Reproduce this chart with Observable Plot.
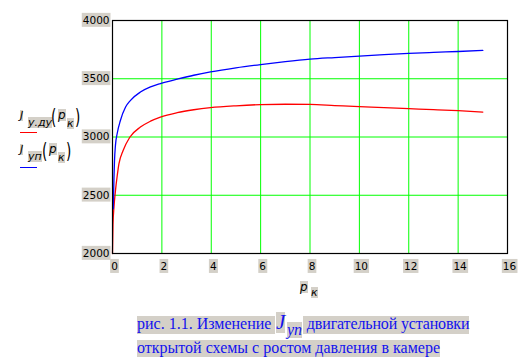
<!DOCTYPE html>
<html>
<head>
<meta charset="utf-8">
<script src="https://cdn.jsdelivr.net/npm/d3@7"></script>
<script src="https://cdn.jsdelivr.net/npm/@observablehq/plot@0.6"></script>
<style>
  html, body { margin: 0; padding: 0; background: #fff; }
  #wrap { position: relative; width: 526px; height: 358px; overflow: hidden; background: #fff; }
  .a { position: absolute; white-space: pre; line-height: 1; }
  .g { background: #d4d0c8; }
  .leg { font-family: "DejaVu Sans", sans-serif; color: #000; }
  .par { transform: scaleX(0.62); transform-origin: 0 0; }
  .cap { font-family: "Liberation Serif", serif; font-size: 16px; color: #1212ee; }
</style>
</head>
<body>
<div id="wrap"></div>
<script>
// Data
const xTicks = [0, 2, 4, 6, 8, 10, 12, 14, 16];
const yTicks = [2000, 2500, 3000, 3500, 4000];
const gridXTicks = [2, 4, 6, 8, 10, 12, 14];
const gridYTicks = [2500, 3000, 3500];

// J_уп(p_к) — blue
const pkUp = [0.03, 0.06, 0.08, 0.12, 0.19, 0.32, 0.53, 0.73, 1.13, 1.54, 1.94, 2.62, 3.29, 3.97, 5, 6, 7, 8, 9, 10, 11, 12, 13, 14, 15];
const jUp  = [2384, 2650, 2790, 2930, 3030, 3142, 3257, 3315, 3386, 3430, 3459, 3496, 3530, 3559, 3594, 3622, 3647, 3668, 3682, 3695, 3707, 3717, 3726, 3734, 3743];

// J_у.ду(p_к) — red
const pkDu = [0, 0.02, 0.06, 0.12, 0.19, 0.26, 0.43, 0.7, 1.13, 1.54, 1.94, 2.62, 3.29, 3.97, 5, 6, 7, 8, 9, 10, 11, 12, 13, 14, 15];
const jDu  = [2000, 2250, 2400, 2540, 2665, 2769, 2884, 2998, 3085, 3136, 3171, 3209, 3234, 3252, 3268, 3278, 3281, 3280, 3270, 3260, 3252, 3243, 3235, 3226, 3214];

const upData = pkUp.map((x, i) => ({x, y: jUp[i]}));
const duData = pkDu.map((x, i) => ({x, y: jDu[i]}));

const chart = Plot.plot({
  width: 526,
  height: 300,
  marginLeft: 112,
  marginRight: 19,
  marginTop: 20,
  marginBottom: 47,
  style: { fontFamily: "DejaVu Sans, sans-serif", fontSize: "10.5px", background: "#fff", color: "#000" },
  x: { domain: [0, 16], ticks: xTicks, tickSize: 0, tickPadding: 9, label: null, tickFormat: d => String(d) },
  y: { domain: [2000, 4000], ticks: yTicks, tickSize: 0, tickPadding: 3, label: null, tickFormat: d => String(d) },
  marks: [
    Plot.gridX(gridXTicks, { stroke: "#00ff00", strokeOpacity: 1, strokeWidth: 1 }),
    Plot.gridY(gridYTicks, { stroke: "#00ff00", strokeOpacity: 1, strokeWidth: 1 }),
    Plot.line(duData, { x: "x", y: "y", stroke: "#ff0000", strokeWidth: 1.3, curve: "monotone-x" }),
    Plot.line(upData, { x: "x", y: "y", stroke: "#0000ff", strokeWidth: 1.3, curve: "monotone-x" }),
    Plot.frame({ stroke: "#000", strokeWidth: 1.2 })
  ]
});

const wrap = document.getElementById("wrap");
wrap.appendChild(chart);

// gray highlight behind tick labels (Mathcad style)
const svg = d3.select(chart.tagName.toLowerCase() === "svg" ? chart : chart.querySelector("svg"));
svg.selectAll('g[aria-label="x-axis tick label"] text').attr("dx", 2);
svg.selectAll('g[aria-label="x-axis tick label"] text, g[aria-label="y-axis tick label"] text').each(function() {
  const b = this.getBBox();
  const tr = this.getAttribute("transform");
  const r = document.createElementNS("http://www.w3.org/2000/svg", "rect");
  r.setAttribute("x", b.x - 1);
  r.setAttribute("y", b.y - 1);
  r.setAttribute("width", b.width + 2);
  r.setAttribute("height", b.height + 2);
  r.setAttribute("fill", "#d4d0c8");
  if (tr) r.setAttribute("transform", tr);
  this.parentNode.insertBefore(r, this);
});

function put(txt, left, top, cls, extra) {
  const s = document.createElement("span");
  s.className = "a " + cls;
  s.style.left = left + "px";
  s.style.top = top + "px";
  if (extra) Object.assign(s.style, extra);
  s.textContent = txt;
  wrap.appendChild(s);
  return s;
}

// legend (left margin)
put("J", 20, 110, "leg g", { fontStyle: "italic", fontSize: "11px" });
put("у.ду", 28, 117, "leg g", { fontStyle: "italic", fontSize: "11px" });
put("(", 51, 106, "leg par", { fontSize: "22px" });
put("p", 58, 109, "leg g", { fontStyle: "italic", fontSize: "12px" });
put("к", 67, 118, "leg g", { fontStyle: "italic", fontSize: "11px" });
put(")", 75, 106, "leg par", { fontSize: "22px" });
put("", 20, 132, "", { width: "17px", height: "1px", background: "#ff0000" });

put("J", 20, 144, "leg g", { fontStyle: "italic", fontSize: "11px" });
put("уп", 28, 151, "leg g", { fontStyle: "italic", fontSize: "11px" });
put("(", 42, 140, "leg par", { fontSize: "22px" });
put("p", 49, 143, "leg g", { fontStyle: "italic", fontSize: "12px" });
put("к", 58, 152, "leg g", { fontStyle: "italic", fontSize: "11px" });
put(")", 66, 140, "leg par", { fontSize: "22px" });
put("", 20, 167, "", { width: "17px", height: "1px", background: "#0000ff" });

// x-axis label
put("p", 300, 281, "leg g", { fontStyle: "italic", fontSize: "12px" });
put("к", 311, 287, "leg g", { fontStyle: "italic", fontSize: "11px" });

// caption
put("рис. 1.1. Изменение ", 137, 316, "cap g", { height: "18px" });
put("J", 276, 312, "cap g", { fontStyle: "italic", fontSize: "21px" });
put("уп", 287, 322, "cap g", { fontStyle: "italic", fontSize: "16px" });
put(" двигательной установки", 303, 316, "cap g", { height: "18px", letterSpacing: "-0.15px" });
put("открытой схемы с ростом давления в камере", 137, 340, "cap g", { height: "17px" });
</script>
</body>
</html>
